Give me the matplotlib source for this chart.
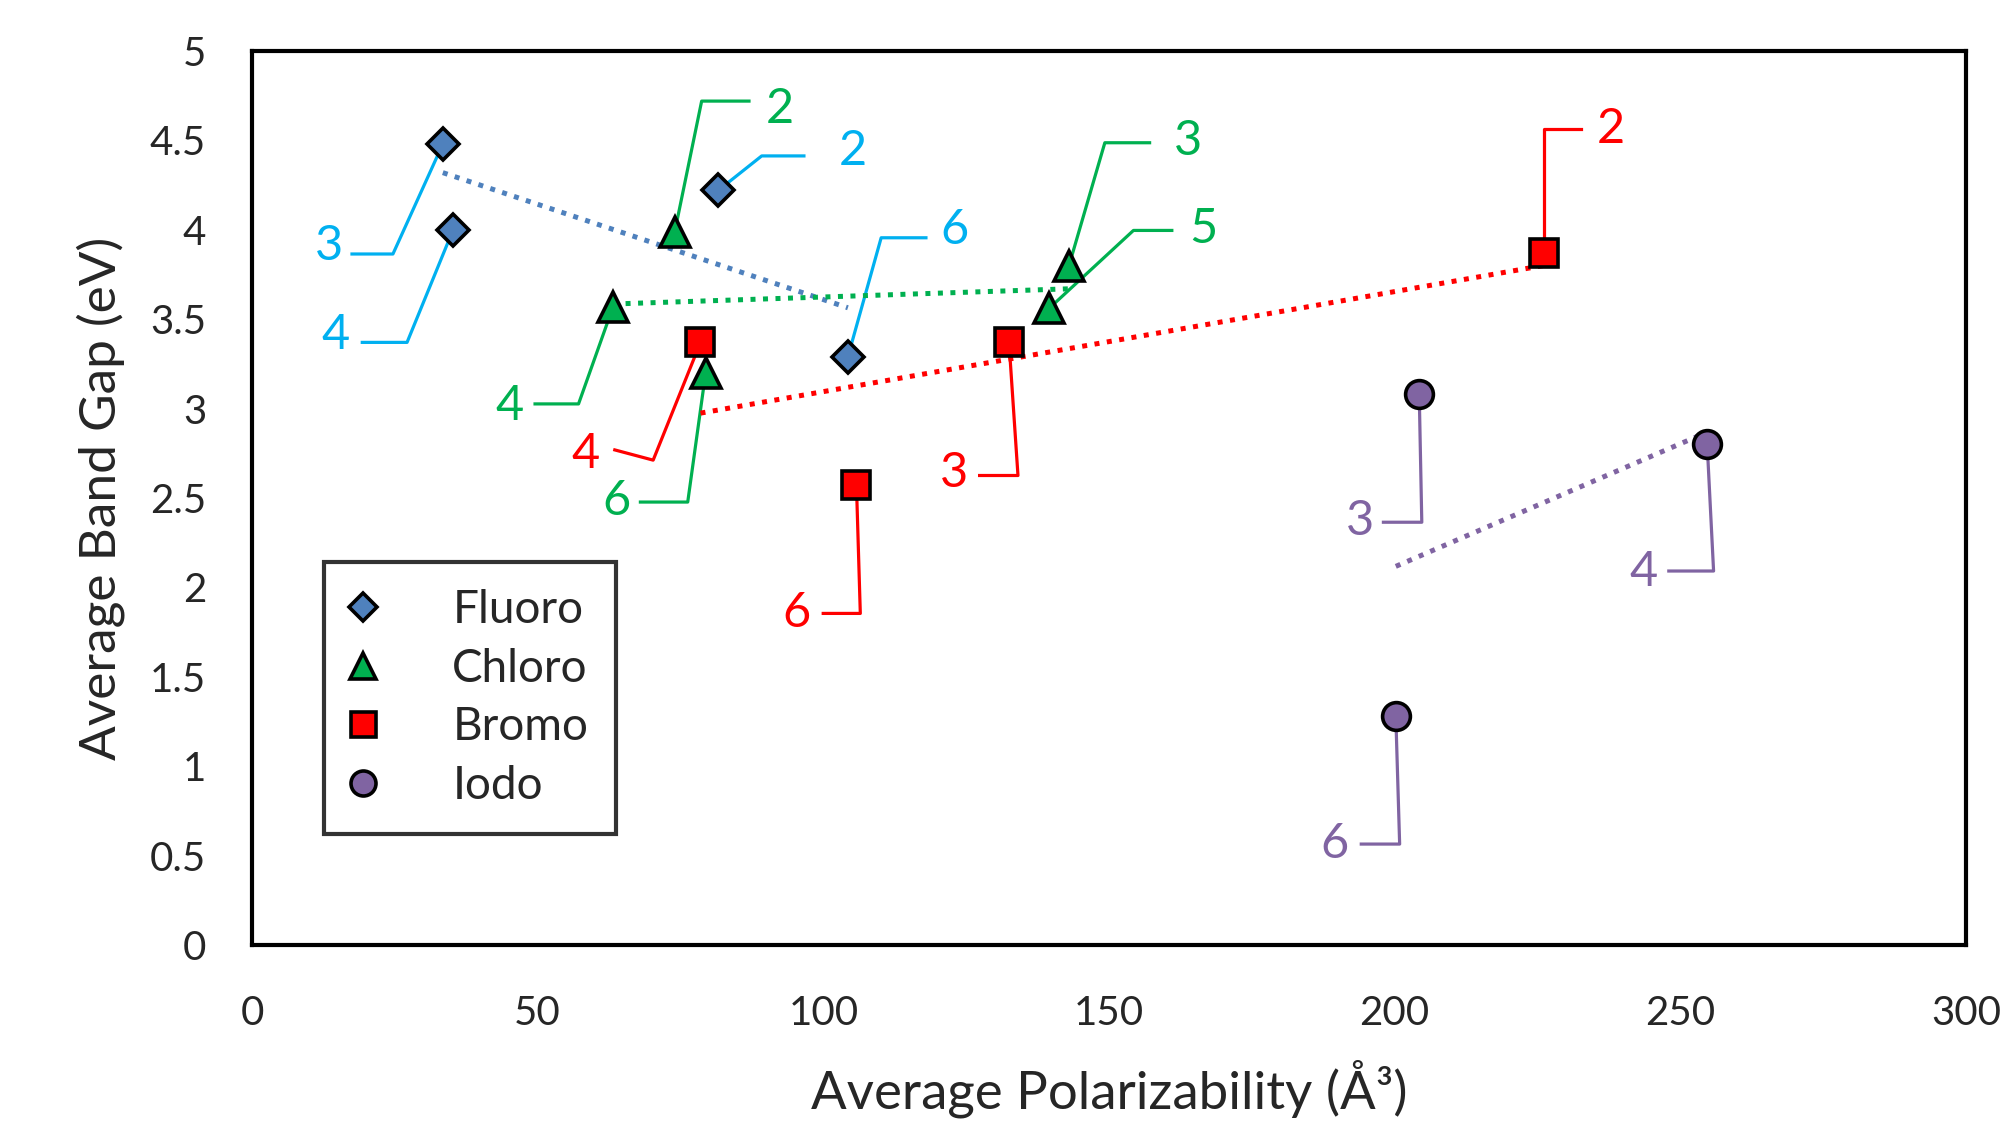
import numpy as np
import matplotlib
matplotlib.use("Agg")
import matplotlib.pyplot as plt

plt.rcParams['font.family'] = ['Lato', 'DejaVu Sans']

# ---------------- data ----------------
fluoro_x = [81.6, 33.4, 35.2, 104.3]
fluoro_y = [4.22, 4.48, 4.00, 3.29]
fluoro_lbl = ['2', '3', '4', '6']

chloro_x = [74.0, 63.2, 79.4, 143.0, 139.5]
chloro_y = [3.99, 3.57, 3.20, 3.80, 3.56]
chloro_lbl = ['2', '4', '6', '3', '5']

bromo_x = [226.2, 78.5, 132.5, 105.8]
bromo_y = [3.87, 3.37, 3.37, 2.57]
bromo_lbl = ['2', '4', '3', '6']

iodo_x = [204.3, 254.7, 200.2]
iodo_y = [3.08, 2.80, 1.28]
iodo_lbl = ['3', '4', '6']

series_names = ['Fluoro', 'Chloro', 'Bromo', 'Iodo']
x_ticks = [0, 50, 100, 150, 200, 250, 300]
y_ticks = [0, 0.5, 1, 1.5, 2, 2.5, 3, 3.5, 4, 4.5, 5]
y_tick_labels = ['0', '0.5', '1', '1.5', '2', '2.5', '3', '3.5', '4', '4.5', '5']

# ---------------- styles ----------------
marker_fill = {'Fluoro': '#4F81BD', 'Chloro': '#00B050', 'Bromo': '#FF0000', 'Iodo': '#8064A2'}
label_color = {'Fluoro': '#00B0F0', 'Chloro': '#00B050', 'Bromo': '#FF0000', 'Iodo': '#8064A2'}
trend_color = {'Fluoro': '#4F81BD', 'Chloro': '#00B050', 'Bromo': '#FF0000', 'Iodo': '#8064A2'}
marker_shape = {'Fluoro': 'D', 'Chloro': '^', 'Bromo': 's', 'Iodo': 'o'}
marker_size = {'Fluoro': 16, 'Chloro': 21, 'Bromo': 20, 'Iodo': 20}

# leader layout: (elbow offset, horizontal end offset, text offset) in image pixels
# relative to the marker (x right, y down)
leaders = {
    ('Fluoro', '3'): ((-39, 86), (-71, 86), (-89, 80)),
    ('Fluoro', '4'): ((-36, 88), (-71, 88), (-92, 82)),
    ('Fluoro', '2'): ((34, -27), (67, -27), (105, -31)),
    ('Fluoro', '6'): ((26, -93), (61, -93), (83, -99)),
    ('Chloro', '2'): ((21, -102), (58, -102), (82, -96)),
    ('Chloro', '4'): ((-27, 76), (-61, 76), (-81, 78)),
    ('Chloro', '6'): ((-14, 101), (-51, 101), (-70, 100)),
    ('Chloro', '3'): ((28, -96), (63, -96), (93, -97)),
    ('Chloro', '5'): ((66, -61), (96, -61), (121, -62)),
    ('Bromo', '2'): ((0, -97), (29, -97), (52, -97)),
    ('Bromo', '4'): ((-37, 92), (-67, 84), (-90, 87)),
    ('Bromo', '3'): ((7, 104), (-23, 104), (-43, 102)),
    ('Bromo', '6'): ((3, 100), (-26, 100), (-47, 100)),
    ('Iodo', '3'): ((2, 100), (-28, 100), (-46, 99)),
    ('Iodo', '4'): ((5, 99), (-30, 99), (-50, 100)),
    ('Iodo', '6'): ((3, 100), (-27, 100), (-48, 100)),
}
S = 2006 / 1568.0

fig = plt.figure(figsize=(20.06, 11.32), dpi=100)
ax = fig.add_axes([252 / 2006, 1 - 945 / 1132, 1714 / 2006, 894 / 1132])
ax.set_xlim(0, 300)
ax.set_ylim(0, 5)

data = {
    'Fluoro': (fluoro_x, fluoro_y, fluoro_lbl),
    'Chloro': (chloro_x, chloro_y, chloro_lbl),
    'Bromo': (bromo_x, bromo_y, bromo_lbl),
    'Iodo': (iodo_x, iodo_y, iodo_lbl),
}

inv = ax.transData.inverted()
for name in series_names:
    xs, ys, lbls = data[name]
    xs = np.array(xs); ys = np.array(ys)
    ax.plot(xs, ys, linestyle='none', marker=marker_shape[name], ms=marker_size[name],
            mfc=marker_fill[name], mec='black', mew=2.6, zorder=5, label=name)
    # linear trendline
    k, b = np.polyfit(xs, ys, 1)
    tx = np.array([xs.min(), xs.max()])
    ax.plot(tx, k * tx + b, color=trend_color[name], lw=3.6, linestyle=(0, (1, 1.5)), zorder=3)
    # data labels with leader lines
    for x, y, l in zip(xs, ys, lbls):
        el, he, te = leaders[(name, l)]
        px, py = ax.transData.transform((x, y))
        pts = np.array([(px, py),
                        (px + el[0] * S, py - el[1] * S),
                        (px + he[0] * S, py - he[1] * S)])
        d = inv.transform(pts)
        ax.plot(d[:, 0], d[:, 1], color=label_color[name], lw=2.3, zorder=2, clip_on=False)
        tdx, tdy = inv.transform((px + te[0] * S, py - te[1] * S))
        ax.text(tdx, tdy, l, color=label_color[name], fontsize=35, ha='center', va='center', zorder=6)

ax.set_xticks(x_ticks)
ax.set_xticklabels([str(v) for v in x_ticks])
ax.set_yticks(y_ticks)
ax.set_yticklabels(y_tick_labels)
ax.tick_params(length=0, labelsize=29, labelcolor='#262626')
ax.tick_params(axis='x', pad=36)
ax.tick_params(axis='y', pad=33)
for sp in ax.spines.values():
    sp.set_linewidth(3)
    sp.set_color('black')

ax.set_xlabel('Average Polarizability (Å³)', fontsize=38, color='#262626', labelpad=20)
ax.set_ylabel('Average Band Gap (eV)', fontsize=37, color='#262626', labelpad=18)

leg = ax.legend(loc='lower left', bbox_to_anchor=(0.042, 0.124), borderaxespad=0,
                fontsize=33, frameon=True, fancybox=False, edgecolor='black',
                borderpad=0.6, handlelength=0.5, handletextpad=1.7, labelspacing=0.36,
                markerscale=0.9, labelcolor='#262626')
leg.get_frame().set_linewidth(3)

fig.savefig('out.png', dpi=100)
